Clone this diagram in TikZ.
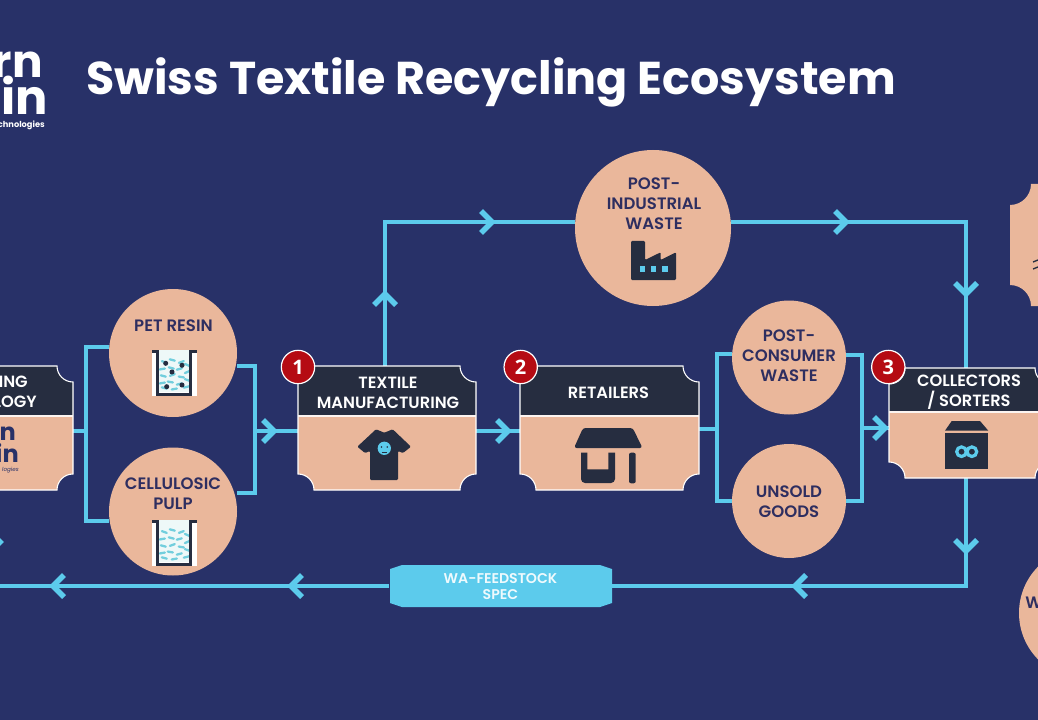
\documentclass[tikz,border=0pt]{standalone}
\usepackage{fontspec}
\setmainfont{Poppins}
\newfontfamily\labelfont{Poppins SemiBold}
\newfontfamily\numfont{Open Sans}
\usetikzlibrary{arrows.meta,positioning,fit,backgrounds}
\definecolor{bgnavy}{HTML}{283168}
\definecolor{peach}{HTML}{EAB79B}
\definecolor{slate}{HTML}{262D40}
\definecolor{sky}{HTML}{5CCBEC}
\definecolor{badgered}{HTML}{B50B13}
\definecolor{inktext}{HTML}{2E2E60}
\definecolor{rodfill}{HTML}{EEF8F8}
\definecolor{rodblue}{HTML}{72CEDD}
\tikzset{
  blob/.style={circle, fill=peach, inner sep=0pt, minimum size=#1},
  blobtext/.style={align=center, text=inktext, font=\labelfont\fontsize{12.4}{15}\selectfont},
  headtext/.style={align=center, text=white, font=\labelfont\fontsize{12.2}{15}\selectfont},
  badge/.style={circle, fill=badgered, draw=white, line width=0.9pt, inner sep=0pt, minimum size=25pt,
    text=white, font=\numfont\bfseries\fontsize{15}{15}\selectfont},
  flow/.style={draw=sky, line width=3.2pt},
  chev/.pic={\draw[draw=sky, line width=4pt, miter limit=4] (-11,-11) -- (0,0) -- (-11,11);},
  beaker/.pic={
    \fill[white] (0,0) rectangle (44.4,-46);
    \fill[rodfill] (5,0) rectangle (38,-42);
    \foreach \rx/\ry/\ra in {12/-12/-20, 20/-10/-15, 29/-12/20, 35/-15/-25, 10/-19/10, 19/-18/-15, 27/-19/15, 35/-22/25,
        11/-26/-15, 20/-25/20, 29/-27/-10, 35/-30/-20, 10/-33/10, 18/-32/-10, 27/-34/15, 34/-37/15, 12/-38/-15, 22/-39/10}
      \draw[rodblue, line width=1.7pt, line cap=round, rotate around={\ra:(\rx,\ry)}] (\rx-2.6,\ry) -- (\rx+2.6,\ry);
    \draw[slate, line width=2.4pt] (0,-1.2) -- (5.4,-1.2) -- (5.4,-44.5) -- (38.5,-44.5) -- (38.5,-1.2) -- (44.4,-1.2);
  },
}
\newcommand{\ticketpath}[4]{(#1+\notch,#2) -- (#3-\notch,#2)
  arc[start angle=180, end angle=270, radius=\notch*0.75pt] -- (#3,#4+\notch)
  arc[start angle=90, end angle=180, radius=\notch*0.75pt] -- (#1+\notch,#4)
  arc[start angle=0, end angle=90, radius=\notch*0.75pt] -- (#1,#2-\notch)
  arc[start angle=270, end angle=360, radius=\notch*0.75pt] -- cycle}
\newcommand{\ticketbox}[6]{
  \node[fit={(#2,#3)(#4,#5)}, inner sep=0pt] (#1) {};
  \fill[peach] \ticketpath{#2}{#3}{#4}{#5};
  \begin{scope}
    \clip (#2,#3) rectangle (#4,#6);
    \fill[slate] \ticketpath{#2}{#3}{#4}{#5};
  \end{scope}
  \draw[white, line width=0.8pt] \ticketpath{#2}{#3}{#4}{#5};
  \draw[white!85!peach, line width=0.8pt] (#2,#6) -- (#4,#6);
}
\def\notch{16}

\begin{document}
\begin{tikzpicture}[x=0.75pt, y=0.75pt]
\useasboundingbox (0,0) rectangle (1038,-720);
% title and logo
\node[anchor=base west, inner sep=0pt, text=white, font=\bfseries\fontsize{34.5}{34.5}\selectfont] (title) at (86,-95) {Swiss Textile Recycling Ecosystem};
\node[anchor=base east, text=white, font=\bfseries\fontsize{34}{34}\selectfont, inner sep=0pt] (logoa) at (43,-78) {rn};
\node[anchor=base east, text=white, font=\bfseries\fontsize{36}{36}\selectfont, inner sep=0pt] (logob) at (48,-115) {ain};
\node[anchor=base east, text=white, font=\bfseries\fontsize{6.2}{6.2}\selectfont, inner sep=0pt] (logoc) at (45,-128) {chnologies};
% process boxes
\ticketbox{techbox}{-105}{-366}{73}{-490}{-416}
\ticketbox{textile}{298}{-366}{476}{-490}{-416}
\ticketbox{retailers}{520}{-366}{699}{-490}{-416}
\ticketbox{collectors}{889}{-368}{1051}{-478}{-412}
\node[headtext, anchor=base east, inner sep=0pt] (techa) at (28,-387) {ING};
\node[headtext, anchor=base east, inner sep=0pt] (techb) at (37,-407) {LOGY};
\node[anchor=base east, text=bgnavy, font=\bfseries\fontsize{18}{18}\selectfont, inner sep=0pt] (techc) at (16,-440) {n};
\node[anchor=base east, text=bgnavy, font=\bfseries\fontsize{18}{18}\selectfont, inner sep=0pt] (techd) at (19,-462) {in};
\node[anchor=base east, text=bgnavy, font=\itshape\fontsize{4.2}{4.2}\selectfont, inner sep=0pt] (teche) at (19,-471) {logies};
\node[headtext] (textilehead) at (388,-392.5) {TEXTILE\\MANUFACTURING};
\node[headtext] (retailhead) at (608.5,-392.5) {RETAILERS};
\node[headtext] (collecthead) at (969,-392) {COLLECTORS\\/ SORTERS};
% material circles
\node[blob=96pt] (pet) at (173,-353) {};
\node[blob=96pt] (pulp) at (173,-511.5) {};
\node[blob=117pt] (postind) at (653,-228) {};
\node[blob=85.5pt] (postcon) at (789,-357.5) {};
\node[blob=85.5pt] (unsold) at (789,-501) {};
\node[blob=99pt] (wacircle) at (1085,-613) {};
\node[blobtext] (petlabel) at (173.5,-326) {PET RESIN};
\node[blobtext] (pulplabel) at (173,-494) {CELLULOSIC\\PULP};
\node[blobtext] (indlabel) at (654,-204) {POST-\\INDUSTRIAL\\WASTE};
\node[blobtext] (conlabel) at (789,-356) {POST-\\CONSUMER\\WASTE};
\node[blobtext] (unsoldlabel) at (789,-502) {UNSOLD\\GOODS};
\node[blobtext, anchor=west, inner sep=0pt] (walabel) at (1025,-603) {W};
% right ticket, cut off by the edge
\def\notch{21}
\node[fit={(1010,-184)(1200,-306)}, inner sep=0pt] (rightbox) {};
\fill[peach] \ticketpath{1010}{-184}{1200}{-306};
\def\notch{16}
\draw[slate, line width=1pt] (1033,-262) -- (1038,-260) (1033,-269) -- (1038,-267);
% spec label
\fill[sky] (390,-569) -- (402,-565) -- (600,-565) -- (612,-569) -- (612,-603) -- (600,-607) -- (402,-607) -- (390,-603) -- cycle;
\node[rectangle, inner sep=0pt, minimum width=166.5pt, minimum height=31.5pt, align=center, text=white!90!sky,
  font=\labelfont\fontsize{10.6}{12}\selectfont] (spec) at (500.5,-587) {WA-FEEDSTOCK\\SPEC};
% badges
\node[badge] (badgea) at (298,-367) {1};
\node[badge] (badgeb) at (520.7,-367) {2};
\node[badge] (badgec) at (888.3,-367) {3};
% icons
\pic at (152.3,-350) {beaker};
\pic at (152.3,-520) {beaker};
\foreach \dx/\dy in {165.7/-363.3, 182/-365.3, 172/-372, 166.7/-386.7, 182/-385}
  \fill[slate] (\dx,\dy) circle[radius=1.9pt];
\fill[slate, rounded corners=0.8pt] (357.3,-446.7) -- (376,-429.3) -- (384.3,-432.7) -- (392.7,-429.3) -- (411,-446.7)
  -- (403,-453) -- (398,-451) -- (398,-480) -- (370,-480) -- (370,-451) -- (365,-453) -- cycle;
\fill[sky] (384.3,-448.3) circle[radius=5pt];
\fill[slate] (381.5,-447) circle[radius=0.6pt] (387.2,-447) circle[radius=0.6pt];
\draw[slate, line width=0.4pt] (381.5,-452) -- (387.2,-452);
\fill[slate, rounded corners=2pt] (583,-428) -- (632.7,-428) -- (642.5,-448) -- (574,-448) -- cycle;
\fill[slate] (581,-452.7) -- (587.3,-452.7) -- (587.3,-469.3) -- (608.3,-469.3) -- (608.3,-452.7) -- (615,-452.7)
  [rounded corners=3pt] -- (615,-483) -- (581,-483) [sharp corners] -- cycle;
\fill[slate, rounded corners=1.5pt] (629,-452.7) rectangle (635.7,-483.3);
\fill[slate] (951.7,-421) -- (980,-421) -- (988.3,-430.7) -- (945,-430.7) -- cycle;
\fill[slate] (945,-433.3) rectangle (988.3,-469);
\draw[sky, line width=2.4pt] (961.5,-451.7) circle[radius=3.6pt] (971.9,-451.7) circle[radius=3.6pt];
\fill[slate, rounded corners=0.8pt] (631,-241) -- (645,-241) -- (645,-260) -- (660.7,-252.3) -- (660.7,-260) -- (676,-252.3)
  -- (676,-280) -- (631,-280) -- cycle;
\foreach \dx in {642.3, 653.7, 665}
  \fill[sky] (\dx-2.6,-266.4) rectangle (\dx+2.6,-271.6);
% flows, behind everything
\coordinate (inbus) at (86,-431);
\coordinate (petin) at (86,-347);
\coordinate (pulpin) at (86,-521);
\coordinate (petout) at (255,-366);
\coordinate (pulpout) at (255,-493);
\coordinate (outbus) at (255,-431);
\coordinate (upleft) at (385,-222);
\coordinate (upright) at (966,-222);
\coordinate (downright) at (966,-586);
\coordinate (specexit) at (-5,-586);
\coordinate (wasteleft) at (717,-429);
\coordinate (contop) at (717,-354);
\coordinate (unsoldbot) at (717,-501);
\coordinate (wasteright) at (862,-428);
\coordinate (conout) at (862,-355);
\coordinate (unsoldout) at (862,-501);
\begin{scope}[on background layer]
\fill[bgnavy] (0,0) rectangle (1038,-720);
\draw[flow] (techbox.east |- inbus) -- (inbus);
\draw[flow] (pet.west |- petin) -- (petin) -- (pulpin) -- (pulp.west |- pulpin);
\draw[flow] (pet.east |- petout) -- (petout) -- (pulpout) -- (pulp.east |- pulpout);
\draw[flow] (outbus) -- (textile.west |- outbus);
\draw[flow] (textile.east |- outbus) -- (retailers.west |- outbus);
\draw[flow] (textile.north -| upleft) -- (upleft) -- (postind.west |- upleft);
\draw[flow] (postind.east |- upleft) -- (upright) -- (collectors.north -| upright);
\draw[flow] (collectors.south -| downright) -- (downright) -- (spec.east |- downright);
\draw[flow] (spec.west |- downright) -- (specexit);
\draw[flow] (retailers.east |- wasteleft) -- (wasteleft);
\draw[flow] (postcon.west |- contop) -- (contop) -- (unsoldbot) -- (unsold.west |- unsoldbot);
\draw[flow] (postcon.east |- conout) -- (conout) -- (unsoldout) -- (unsold.east |- unsoldout);
\draw[flow] (wasteright) -- (collectors.west |- wasteright);
\end{scope}
% chevrons on the flows
\foreach \cx/\cy/\ang in {274/-431/0, 508/-431/0, 885/-428/0, 492/-222/0, 846/-222/0, 385/-294/90,
    966/-294/-90, 966/-551/-90, 795/-586/180, 291/-586/180, 53/-586/180}
  \pic[rotate=\ang] at (\cx,\cy) {chev};
\pic at (0,-542) {chev};
\end{tikzpicture}
\end{document}
